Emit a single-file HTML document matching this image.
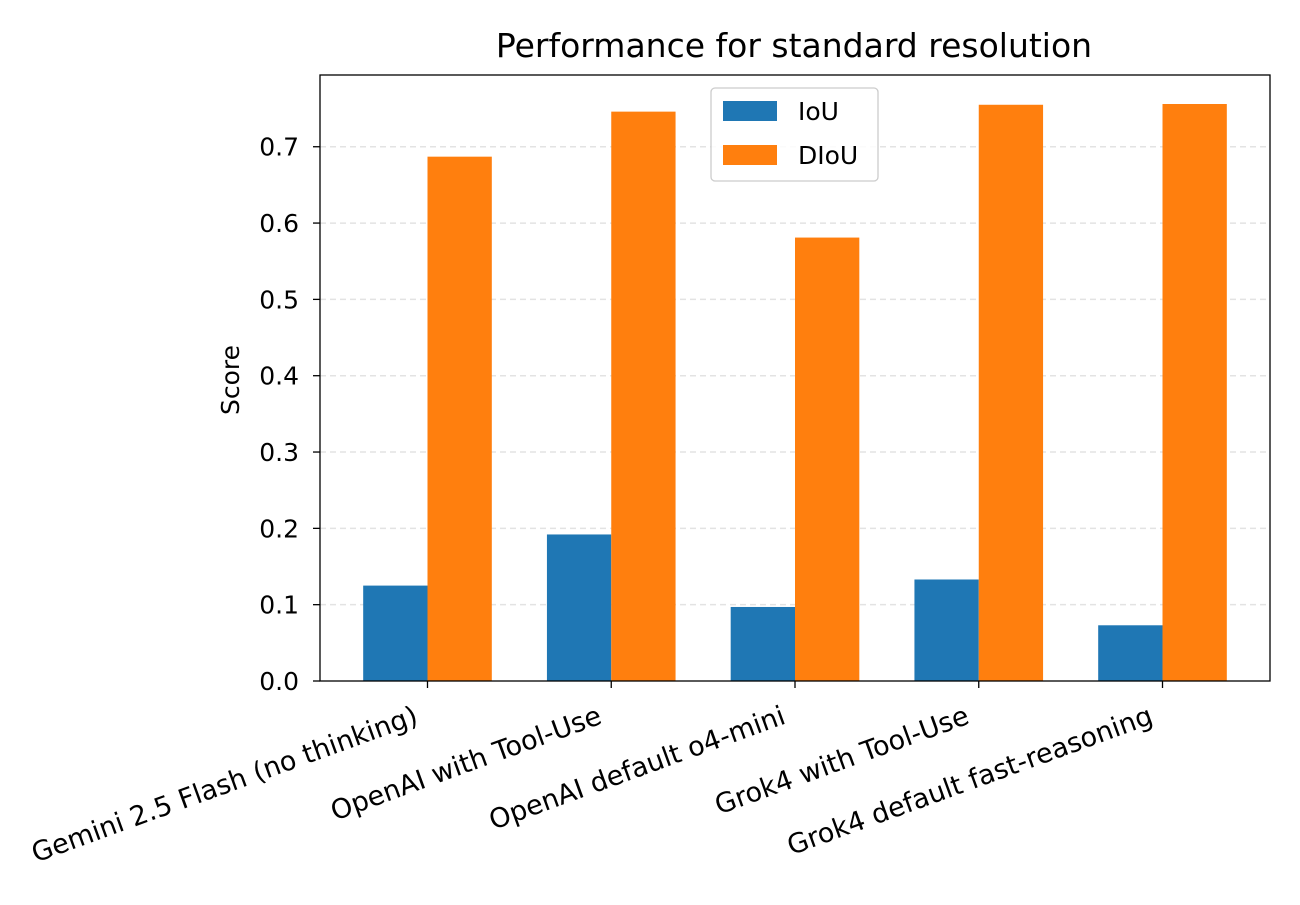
<!DOCTYPE html>
<html><head><meta charset="utf-8"><style>
body{margin:0;background:#fff;}
svg text{font-family:"DejaVu Sans","Liberation Sans",sans-serif;fill:#000;}
</style></head><body>
<svg id="chart" width="1300" height="900" xmlns="http://www.w3.org/2000/svg">
<text x="794" y="57" font-size="33" text-anchor="middle">Performance for standard resolution</text>
<text x="0" y="0" font-size="25" text-anchor="middle" transform="translate(239,380) rotate(-90)">Score</text>
<g id="grid"></g><g id="bars"></g><g id="axes"></g>
</svg>
<script>
const categories=["Gemini 2.5 Flash (no thinking)","OpenAI with Tool-Use","OpenAI default o4-mini","Grok4 with Tool-Use","Grok4 default fast-reasoning"];
const iouValues=[0.125,0.192,0.097,0.133,0.073];
const diouValues=[0.687,0.746,0.581,0.755,0.756];
const yTicks=[0,0.1,0.2,0.3,0.4,0.5,0.6,0.7];
const yTickLabels=["0.0","0.1","0.2","0.3","0.4","0.5","0.6","0.7"];
const NS="http://www.w3.org/2000/svg";
const L=320,R=1270,T=75,B=681;
const ymax=0.794, xmin=-0.585, xmax=categories.length-1+0.585, bw=0.35;
const ys=v=>B-(v/ymax)*(B-T);
const xs=v=>L+(v-xmin)/(xmax-xmin)*(R-L);
function mk(tag,attrs,parent){const e=document.createElementNS(NS,tag);for(const k in attrs)e.setAttribute(k,attrs[k]);parent.appendChild(e);return e;}
const grid=document.getElementById('grid'),bars=document.getElementById('bars'),axes=document.getElementById('axes');
yTicks.forEach((t,i)=>{
 if(t>0){const g=mk('line',{x1:L,x2:R,y1:ys(t),y2:ys(t),stroke:'#e3e3e3','stroke-width':1.5,'stroke-dasharray':'6,4'},grid);
 
 }
 const tk=mk('line',{x1:L-7,x2:L,y1:ys(t),y2:ys(t),stroke:'#000','stroke-width':1.3},axes);
 
 
 const tx=mk('text',{x:L-21,y:ys(t)+9,'font-size':25,'text-anchor':'end'},axes);
 tx.textContent=yTickLabels[i];
 
 
});
categories.forEach((c,i)=>{
 const b1=mk('rect',{x:xs(i-bw),y:ys(iouValues[i]),width:xs(i)-xs(i-bw),height:B-ys(iouValues[i]),fill:'#1f77b4'},bars);
 
 
 const b2=mk('rect',{x:xs(i),y:ys(diouValues[i]),width:xs(i+bw)-xs(i),height:B-ys(diouValues[i]),fill:'#ff7f0e'},bars);
 
 
 const tk=mk('line',{x1:xs(i),x2:xs(i),y1:B,y2:B+7,stroke:'#000','stroke-width':1.3},axes);
 
 
 const tx=mk('text',{x:0,y:0,'font-size':27,'text-anchor':'end',transform:`translate(${xs(i)-8},${B+42}) rotate(-20)`},axes);
 tx.textContent=c;
 
 
});
const fr=mk('rect',{x:L,y:T,width:R-L,height:B-T,fill:'none',stroke:'#000','stroke-width':1.3},axes);


const lg=mk('g',{},axes);


mk('rect',{x:711,y:88,width:167,height:93,rx:4,fill:'#fff','fill-opacity':0.85,stroke:'#ccc','stroke-width':1.3},lg);
[["IoU","#1f77b4",111],["DIoU","#ff7f0e",155]].forEach(([n,c,y])=>{
 const p=mk('rect',{x:723,y:y-10,width:54,height:20,fill:c},lg);
 
 
 const t=mk('text',{x:798,y:y+9,'font-size':25},lg);
 t.textContent=n;
 
 
});
</script>
</body></html>
